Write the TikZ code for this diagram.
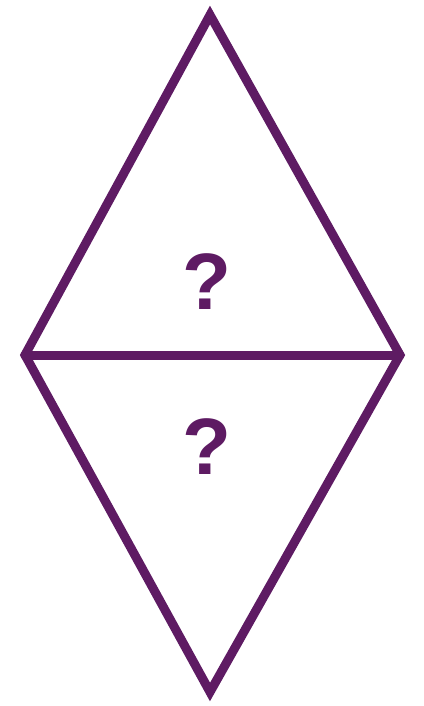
\documentclass[tikz,border=0pt]{standalone}
\usepackage{fontspec}
\setmainfont{Liberation Sans}
\usetikzlibrary{positioning}
\definecolor{Plum}{HTML}{5E1B63}
\tikzset{
  edge/.style={draw=Plum, line width=9pt, line join=miter, line cap=round},
  query/.style={text=Plum, font=\fontsize{80}{80}\selectfont\bfseries, inner sep=0pt}
}
\begin{document}
\begin{tikzpicture}[x=1pt,y=-1pt]
  \useasboundingbox (0,0) rectangle (423,706);
  % corners of the rhombus
  \coordinate (apex) at (210,15);
  \coordinate (west) at (25,355);
  \coordinate (east) at (400,355);
  \coordinate (foot) at (210,692);
  \draw[edge] (apex) -- (east) -- (foot) -- (west) -- cycle;
  \draw[edge] (west) -- (east);
  % labels
  \node[query] (upper) at (207,282) {?};
  \node[query] (lower) at (207,447) {?};
\end{tikzpicture}
\end{document}
